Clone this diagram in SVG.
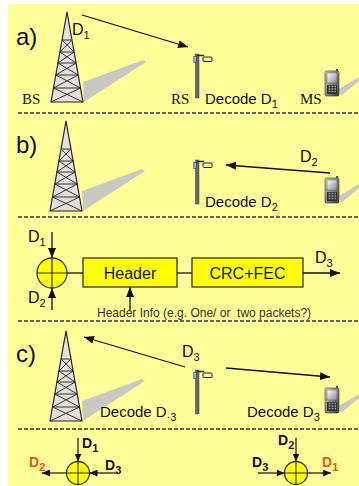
<svg xmlns="http://www.w3.org/2000/svg" width="359" height="486" viewBox="0 0 359 486">
  <style>
    .lbl { font-family: "Liberation Sans", Arial, sans-serif; font-size: 24px; fill: #111; }
    .d { font-family: "Liberation Sans", Arial, sans-serif; font-size: 16px; fill: #111; }
    .dec { font-family: "Liberation Sans", Arial, sans-serif; font-size: 15px; fill: #111; }
    .nm { font-family: "Liberation Serif", "Times New Roman", serif; font-size: 15px; fill: #111; }
    .box-t { font-family: "Liberation Sans", Arial, sans-serif; font-size: 16px; fill: #111; text-anchor: middle; }
    .info { font-family: "Liberation Sans", Arial, sans-serif; font-size: 12px; fill: #333; white-space: pre; }
    .bd { font-family: "Liberation Sans", Arial, sans-serif; font-size: 14px; font-weight: bold; fill: #111; }
    .bd.red { fill: #f4511e; }
    .sub { font-size: 11px; }
    .dash { stroke: #333; stroke-width: 1.3; stroke-dasharray: 4 2; fill: none; }
    .wire { stroke: #111; stroke-width: 1.3; fill: none; }
    .arr { stroke: #111; stroke-width: 1.3; fill: none; marker-end: url(#ah); }
    .arr-s { stroke: #111; stroke-width: 1.2; fill: none; marker-end: url(#ahs); }
    .blk { fill: #ffff00; stroke: #333; stroke-width: 1.3; }
    .sum { fill: #ffff00; stroke: #333; stroke-width: 1.3; }
  </style>
  <defs>
    <marker id="ah" markerUnits="userSpaceOnUse" markerWidth="10" markerHeight="8" refX="10" refY="4" orient="auto">
      <path d="M0,0 L10,4 L0,8 Z" fill="#111"/>
    </marker>
    <marker id="ahs" markerUnits="userSpaceOnUse" markerWidth="8" markerHeight="7" refX="8" refY="3.5" orient="auto">
      <path d="M0,0 L8,3.5 L0,7 Z" fill="#111"/>
    </marker>
    <linearGradient id="phoneBody" x1="0" y1="0" x2="1" y2="1">
      <stop offset="0" stop-color="#d8d8d8"/>
      <stop offset="1" stop-color="#3c3c3c"/>
    </linearGradient>
    <linearGradient id="phoneScreen" x1="0" y1="0" x2="1" y2="1">
      <stop offset="0" stop-color="#ffffff"/>
      <stop offset="1" stop-color="#8a8a8a"/>
    </linearGradient>
    <!-- lattice tower, apex at origin, base at y=90 -->
    <g id="tower">
      <polygon points="16,70 76,48 79,50 17,90" fill="#c9c9c4"/>
      <polygon points="0,0 -16,90 16,90" fill="#e2e0da" stroke="#222" stroke-width="1.2" stroke-linejoin="round"/>
      <path d="M-5,28 H5 M-7.1,40 H7.1 M-9.1,51 H9.1 M-11.2,63 H11.2 M-13.5,76 H13.5
               M-5,28 L7.1,40 M5,28 L-7.1,40
               M-7.1,40 L9.1,51 M7.1,40 L-9.1,51
               M-9.1,51 L11.2,63 M9.1,51 L-11.2,63
               M-11.2,63 L13.5,76 M11.2,63 L-13.5,76
               M-13.5,76 L16,90 M13.5,76 L-16,90" stroke="#222" stroke-width="0.9" fill="none"/>
    </g>
    <!-- relay station mast, origin at top of pole -->
    <g id="relay">
      <rect x="-1.5" y="0" width="3.5" height="44" fill="#666" stroke="#444" stroke-width="0.5"/>
      <line x1="0" y1="1.5" x2="7" y2="1.5" stroke="#222" stroke-width="1.5"/>
      <rect x="-3.2" y="2.5" width="2.6" height="6" fill="#8cb6e0" stroke="#333" stroke-width="0.6"/>
      <rect x="6" y="3" width="9" height="4.5" rx="1" fill="#ffff99" stroke="#222" stroke-width="1"/>
    </g>
    <!-- handset, origin at top-left -->
    <g id="phone">
      <polygon points="14,20 34,8 34,12 16,27" fill="#c9c9c4"/>
      <rect x="11" y="0" width="2" height="3" fill="#555"/>
      <rect x="0" y="2" width="14" height="25" rx="1.5" fill="url(#phoneBody)" stroke="#333" stroke-width="0.6"/>
      <rect x="2" y="4" width="10" height="10" fill="url(#phoneScreen)" stroke="#444" stroke-width="0.4"/>
      <rect x="2" y="16" width="10" height="9" fill="#2e2e2e"/>
      <path d="M3.5,17.5 h2 M6.5,17.5 h2 M9.5,17.5 h1.5 M3.5,20 h2 M6.5,20 h2 M9.5,20 h1.5 M3.5,22.5 h2 M6.5,22.5 h2 M9.5,22.5 h1.5" stroke="#9a9a9a" stroke-width="1.3"/>
    </g>
  </defs>

  <rect x="8" y="4" width="351" height="482" fill="#ffff99"/>

  <!-- panel separators -->
  <g id="separators">
    <line class="dash" x1="18" y1="113" x2="359" y2="113"/>
    <line class="dash" x1="18" y1="217" x2="359" y2="217"/>
    <line class="dash" x1="18" y1="321" x2="359" y2="321"/>
    <line class="dash" x1="18" y1="429" x2="359" y2="429"/>
  </g>

  <!-- a) -->
  <text class="lbl" x="16" y="45">a)</text>
  <g id="bs-a"><use href="#tower" transform="translate(67,12)"/><text class="nm" x="22" y="104">BS</text></g>
  <g id="rs-a"><use href="#relay" transform="translate(197,54)"/><text class="nm" x="171" y="104">RS</text></g>
  <g id="ms-a"><use href="#phone" transform="translate(325,69)"/><text class="nm" x="300" y="104">MS</text></g>
  <text class="d" x="72" y="35">D<tspan class="sub" dy="4">1</tspan></text>
  <text class="dec" x="205" y="104">Decode D<tspan class="sub" dy="4">1</tspan></text>

  <!-- b) -->
  <text class="lbl" x="16" y="153">b)</text>
  <g id="bs-b"><use href="#tower" transform="translate(66,121)"/></g>
  <g id="rs-b"><use href="#relay" transform="translate(197,160)"/></g>
  <g id="ms-b"><use href="#phone" transform="translate(325,176)"/></g>
  <text class="d" x="300" y="162">D<tspan class="sub" dy="4">2</tspan></text>
  <text class="dec" x="205" y="207">Decode D<tspan class="sub" dy="4">2</tspan></text>

  <!-- network coding block -->
  <g id="adder">
    <circle class="sum" cx="52" cy="273" r="15"/>
    <path d="M37,273 H67 M52,258 V288" stroke="#333" stroke-width="1.2"/>
  </g>
  <g id="header">
    <rect class="blk" x="83" y="258" width="94" height="29"/>
    <text class="box-t" x="130" y="279">Header</text>
  </g>
  <g id="crcfec">
    <rect class="blk" x="192" y="258" width="111" height="29"/>
    <text class="box-t" x="247.5" y="279">CRC+FEC</text>
  </g>
  <text class="d" x="28" y="242">D<tspan class="sub" dy="4">1</tspan></text>
  <text class="d" x="28" y="303">D<tspan class="sub" dy="4">2</tspan></text>
  <text class="d" x="315" y="263">D<tspan class="sub" dy="4">3</tspan></text>
  <text class="info" x="97" y="317" xml:space="preserve">Header Info (e.g. One/ or  two packets?)</text>

  <!-- c) -->
  <text class="lbl" x="16" y="362">c)</text>
  <g id="bs-c"><use href="#tower" transform="translate(66,331)"/></g>
  <g id="rs-c"><use href="#relay" transform="translate(197,370)"/></g>
  <g id="ms-c"><use href="#phone" transform="translate(325,386)"/></g>
  <text class="d" x="182" y="357">D<tspan class="sub" dy="4">3</tspan></text>
  <text class="dec" x="100" y="417">Decode D<tspan class="sub" dy="4">·3</tspan></text>
  <text class="dec" x="247" y="417">Decode D<tspan class="sub" dy="4">3</tspan></text>

  <!-- decoding at the terminals -->
  <g id="adder-bs">
    <circle class="sum" cx="78" cy="473" r="11.5"/>
    <path d="M66.5,473 H89.5 M78,461.5 V484.5" stroke="#333" stroke-width="1.1"/>
  </g>
  <g id="adder-ms">
    <circle class="sum" cx="296" cy="473" r="11.5"/>
    <path d="M284.5,473 H307.5 M296,461.5 V484.5" stroke="#333" stroke-width="1.1"/>
  </g>
  <text class="bd" x="82" y="448">D<tspan class="sub" dy="4">1</tspan></text>
  <text class="bd" x="105" y="470">D<tspan class="sub" dy="4">3</tspan></text>
  <text class="bd red" x="29" y="467">D<tspan class="sub" dy="4">2</tspan></text>
  <text class="bd" x="278" y="445">D<tspan class="sub" dy="4">2</tspan></text>
  <text class="bd" x="252" y="467">D<tspan class="sub" dy="4">3</tspan></text>
  <text class="bd red" x="322" y="467">D<tspan class="sub" dy="4">1</tspan></text>

  <!-- connectors -->
  <g id="connectors">
    <line class="arr" x1="82" y1="15" x2="188" y2="47"/>
    <line class="arr" x1="330" y1="173" x2="226" y2="165"/>
    <line class="arr" x1="52" y1="232" x2="52" y2="258"/>
    <line class="arr" x1="52" y1="310" x2="52" y2="288"/>
    <line class="wire" x1="67" y1="273" x2="83" y2="273"/>
    <line class="wire" x1="177" y1="273" x2="192" y2="273"/>
    <line class="arr" x1="303" y1="273" x2="340" y2="273"/>
    <line class="arr" x1="130" y1="310" x2="130" y2="287"/>
    <line class="arr" x1="185" y1="367" x2="84" y2="337"/>
    <line class="arr" x1="226" y1="368" x2="330" y2="377"/>
    <line class="arr-s" x1="78" y1="438" x2="78" y2="461.5"/>
    <line class="arr-s" x1="118" y1="473" x2="89.5" y2="473"/>
    <line class="arr-s" x1="66.5" y1="473" x2="42" y2="473"/>
    <line class="arr-s" x1="296" y1="438" x2="296" y2="461.5"/>
    <line class="arr-s" x1="258" y1="473" x2="284.5" y2="473"/>
    <line class="arr-s" x1="307.5" y1="473" x2="331" y2="473"/>
  </g>
</svg>
